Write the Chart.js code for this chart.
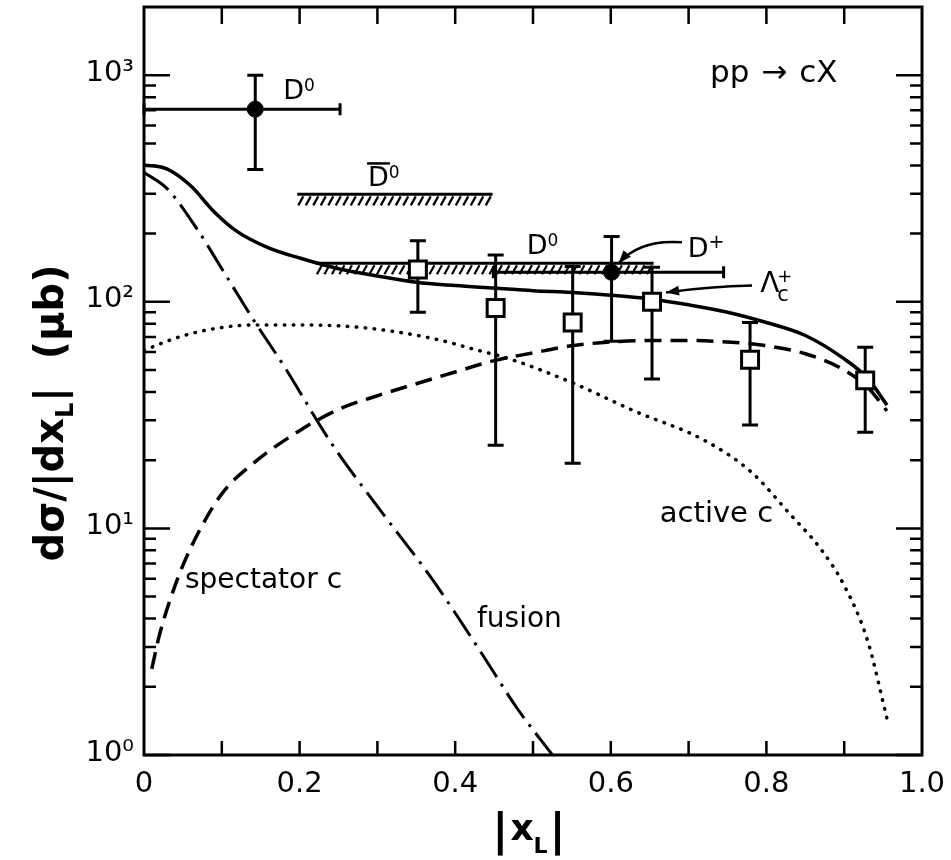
<!DOCTYPE html>
<html>
<head>
<meta charset="utf-8">
<title>pp → cX</title>
<script src="https://cdn.jsdelivr.net/npm/chart.js@4.4.1/dist/chart.umd.min.js"></script>
<style>
  html, body { margin: 0; padding: 0; background: #fff; }
  canvas { display: block; }
</style>
</head>
<body>
<canvas id="chart" width="951" height="860"></canvas>
<script>
// model curves
const totalX = [0, 0.03, 0.06, 0.09, 0.12, 0.16, 0.2, 0.25, 0.3, 0.35, 0.4, 0.45, 0.5, 0.55, 0.6, 0.65, 0.7, 0.75, 0.8, 0.85, 0.9, 0.93, 0.955];
const totalY = [402, 385, 325, 250, 204, 173, 156, 140, 130, 122, 118, 115, 112, 110, 107, 103, 97, 90, 81, 71, 56, 46, 35];

const spectX = [0.01, 0.02, 0.04, 0.06, 0.1, 0.14, 0.2, 0.25, 0.3, 0.35, 0.4, 0.45, 0.5, 0.55, 0.6, 0.65, 0.7, 0.75, 0.8, 0.85, 0.9, 0.93, 0.955];
const spectY = [2.4, 3.4, 5.6, 8.2, 14.2, 19.3, 27, 33.5, 38.5, 43.5, 49, 55, 59.5, 64, 66.5, 67.5, 67.5, 66.5, 64, 59, 50, 42, 33];

const fusionX = [0, 0.03, 0.07, 0.1, 0.14, 0.18, 0.24, 0.3, 0.37, 0.43, 0.48, 0.525];
const fusionY = [372, 315, 205, 140, 84, 52, 24, 12.5, 6.0, 2.95, 1.6, 1.0];

const activeX = [0, 0.04, 0.08, 0.14, 0.2, 0.28, 0.37, 0.43, 0.47, 0.55, 0.63, 0.72, 0.78, 0.83, 0.87, 0.9, 0.93, 0.956];
const activeY = [61, 69, 75, 79, 79, 77, 69, 61, 56, 44, 33, 24.5, 17.8, 11.6, 8.1, 5.6, 3.2, 1.4];

// D0 / D+ points (filled circles)
const dX = [0.143, 0.601];
const dY = [708, 135];
const dYLo = [384, 67];
const dYHi = [1000, 194];
const dXLo = [0, 0.449];
const dXHi = [0.252, 0.745];

// Lambda_c+ points (open squares)
const lcX = [0.352, 0.452, 0.551, 0.653, 0.779, 0.927];
const lcY = [139, 94, 81, 100, 55.5, 45];
const lcYLo = [90, 23.3, 19.4, 45.6, 28.6, 26.6];
const lcYHi = [186, 161, 143, 142, 81, 63];

// hatched bands
const dbarBandX = [0.197, 0.448];
const dbarBandY = [298, 298];
const d0BandX = [0.221, 0.655];
const d0BandY = [148, 148];

// axes
const xMinorTicks = [0.1, 0.2, 0.3, 0.4, 0.5, 0.6, 0.7, 0.8, 0.9];
const yDecades = [1, 10, 100, 1000];
const yTickLabels = ['10⁰', '10¹', '10²', '10³'];

const ink = '#000';
const face = '"DejaVu Sans"';
Chart.defaults.font.family = face;
Chart.defaults.color = ink;

function pts(xs, ys) {
  return xs.map((x, i) => ({x: x, y: ys[i]}));
}

function runs(ctx, x, y, parts, dry) {
  let cx = x;
  parts.forEach(p => {
    ctx.font = (p.w || 'normal') + ' ' + p.s + 'px ' + face;
    if (!dry) ctx.fillText(p.t, cx, y + (p.dy || 0));
    if (!p.stay) cx += ctx.measureText(p.t).width + (p.gap || 0);
  });
  return cx - x;
}

function arrowHead(ctx, x, y, ang) {
  ctx.beginPath();
  ctx.moveTo(x, y);
  ctx.lineTo(x - 13 * Math.cos(ang) + 5 * Math.sin(ang), y - 13 * Math.sin(ang) - 5 * Math.cos(ang));
  ctx.lineTo(x - 13 * Math.cos(ang) - 5 * Math.sin(ang), y - 13 * Math.sin(ang) + 5 * Math.cos(ang));
  ctx.closePath();
  ctx.fill();
}

const notes = [
  {x: 0.179, y: 783, parts: [{t: 'D', s: 27}, {t: '0', s: 17, dy: -8}]},
  {x: 0.288, y: 323, parts: [{t: 'D', s: 27}, {t: '0', s: 17, dy: -8}], bar: true},
  {x: 0.492, y: 162, parts: [{t: 'D', s: 27}, {t: '0', s: 17, dy: -8}]},
  {x: 0.699, y: 158, parts: [{t: 'D', s: 27}, {t: '+', s: 19, dy: -9}]},
  {x: 0.792, y: 111, parts: [{t: 'Λ', s: 28, gap: -2}, {t: '+', s: 18, dy: -10, stay: true}, {t: 'c', s: 21, dy: 9}]},
  {x: 0.7275, y: 931, parts: [{t: 'pp', s: 31, gap: 12}, {t: '→', s: 31, gap: 12}, {t: 'cX', s: 31}]},
  {x: 0.0527, y: 5.47, parts: [{t: 'spectator c', s: 28}]},
  {x: 0.428, y: 3.67, parts: [{t: 'fusion', s: 28}]},
  {x: 0.663, y: 10.7, parts: [{t: 'active c', s: 29}]}
];

const decorations = {
  id: 'decorations',
  beforeDatasetsDraw(chart) {
    const ctx = chart.ctx, sx = chart.scales.x, sy = chart.scales.y;
    ctx.save();
    ctx.strokeStyle = ink;
    ctx.lineWidth = 3;
    ctx.beginPath();
    lcX.forEach((v, i) => {
      const X = sx.getPixelForValue(v);
      const lo = sy.getPixelForValue(lcYLo[i]), hi = sy.getPixelForValue(lcYHi[i]);
      ctx.moveTo(X, lo); ctx.lineTo(X, hi);
      ctx.moveTo(X - 8, lo); ctx.lineTo(X + 8, lo);
      ctx.moveTo(X - 8, hi); ctx.lineTo(X + 8, hi);
    });
    dX.forEach((v, i) => {
      const X = sx.getPixelForValue(v), Y = sy.getPixelForValue(dY[i]);
      const lo = sy.getPixelForValue(dYLo[i]), hi = sy.getPixelForValue(dYHi[i]);
      const l = sx.getPixelForValue(dXLo[i]), r = sx.getPixelForValue(dXHi[i]);
      ctx.moveTo(X, lo); ctx.lineTo(X, hi);
      ctx.moveTo(X - 8, lo); ctx.lineTo(X + 8, lo);
      ctx.moveTo(X - 8, hi); ctx.lineTo(X + 8, hi);
      ctx.moveTo(l, Y); ctx.lineTo(r, Y);
      ctx.moveTo(l, Y - 6); ctx.lineTo(l, Y + 6);
      ctx.moveTo(r, Y - 6); ctx.lineTo(r, Y + 6);
    });
    ctx.stroke();
    ctx.restore();
  },
  afterDatasetDraw(chart, args) {
    if (!args.meta.dataset || !chart.data.datasets[args.index].hatch) return;
    const ctx = chart.ctx;
    const p = args.meta.data;
    ctx.save();
    ctx.strokeStyle = ink;
    ctx.lineWidth = 2.2;
    ctx.beginPath();
    for (let X = p[0].x + 4; X <= p[1].x; X += 7.5) {
      ctx.moveTo(X + 2, p[0].y + 2);
      ctx.lineTo(X - 3, p[0].y + 11);
    }
    ctx.stroke();
    ctx.restore();
  },
  afterDatasetsDraw(chart) {
    const ctx = chart.ctx, sx = chart.scales.x, sy = chart.scales.y;
    ctx.save();
    ctx.fillStyle = ink;
    ctx.strokeStyle = ink;
    ctx.textBaseline = 'alphabetic';
    ctx.textAlign = 'left';
    notes.forEach(n => {
      const X = sx.getPixelForValue(n.x), Y = sy.getPixelForValue(n.y);
      runs(ctx, X, Y, n.parts);
      if (n.bar) {
        ctx.font = 'normal 27px ' + face;
        const w = ctx.measureText('D').width;
        ctx.lineWidth = 2.5;
        ctx.beginPath();
        ctx.moveTo(X - 1, Y - 23);
        ctx.lineTo(X + w + 1, Y - 23);
        ctx.stroke();
      }
    });
    // arrow to the D+ point
    ctx.lineWidth = 2.5;
    let a0 = [sx.getPixelForValue(0.6915), sy.getPixelForValue(183)];
    let a1 = [sx.getPixelForValue(0.6375), sy.getPixelForValue(189)];
    let a2 = [sx.getPixelForValue(0.610), sy.getPixelForValue(148)];
    ctx.beginPath();
    ctx.moveTo(a0[0], a0[1]);
    ctx.quadraticCurveTo(a1[0], a1[1], a2[0], a2[1]);
    ctx.stroke();
    arrowHead(ctx, a2[0], a2[1], Math.atan2(a2[1] - a1[1], a2[0] - a1[0]));
    // arrow to the Lambda_c+ point
    a0 = [sx.getPixelForValue(0.7815), sy.getPixelForValue(118)];
    a1 = [sx.getPixelForValue(0.7275), sy.getPixelForValue(117)];
    a2 = [sx.getPixelForValue(0.671), sy.getPixelForValue(110)];
    ctx.beginPath();
    ctx.moveTo(a0[0], a0[1]);
    ctx.quadraticCurveTo(a1[0], a1[1], a2[0], a2[1]);
    ctx.stroke();
    arrowHead(ctx, a2[0], a2[1], Math.atan2(a2[1] - a1[1], a2[0] - a1[0]));
    ctx.restore();
  },
  afterDraw(chart) {
    const ctx = chart.ctx, sx = chart.scales.x, sy = chart.scales.y, a = chart.chartArea;
    ctx.save();
    ctx.strokeStyle = ink;
    ctx.fillStyle = ink;
    ctx.lineWidth = 3;
    ctx.strokeRect(a.left, a.top, a.right - a.left, a.bottom - a.top);
    ctx.lineWidth = 2.5;
    ctx.beginPath();
    xMinorTicks.forEach(v => {
      const X = sx.getPixelForValue(v);
      ctx.moveTo(X, a.bottom); ctx.lineTo(X, a.bottom - 14);
      ctx.moveTo(X, a.top); ctx.lineTo(X, a.top + 17);
    });
    yDecades.forEach(d => {
      for (let m = 1; m <= 9; m++) {
        const v = d * m;
        if (v >= sy.max) break;
        const Y = sy.getPixelForValue(v);
        const len = m === 1 ? 26 : 12;
        ctx.moveTo(a.left, Y); ctx.lineTo(a.left + len, Y);
        ctx.moveTo(a.right, Y); ctx.lineTo(a.right - len, Y);
      }
    });
    ctx.stroke();

    // y tick labels 10^n
    ctx.font = 'normal 29px ' + face;
    ctx.textAlign = 'right';
    ctx.textBaseline = 'middle';
    yDecades.forEach((d, i) => {
      ctx.fillText(yTickLabels[i], a.left - 10, sy.getPixelForValue(d) - 2);
    });

    // x title |x_L|
    ctx.textAlign = 'left';
    ctx.textBaseline = 'alphabetic';
    const xt = [{t: '|', s: 44, w: 'bold', dy: 5, gap: 2}, {t: 'x', s: 36, w: 'bold'}, {t: 'L', s: 22, w: 'bold', dy: 13, gap: 2}, {t: '|', s: 44, w: 'bold', dy: 5}];
    const xw = runs(ctx, 0, 0, xt, true);
    runs(ctx, (a.left + a.right) / 2 - 4 - xw / 2, 840, xt);

    // y title dσ/|dx_L|  (μb)
    const yt = [{t: 'dσ/|dx', s: 40, w: 'bold'}, {t: 'L', s: 24, w: 'bold', dy: 10, gap: 1}, {t: '|', s: 40, w: 'bold'}, {t: '  (μb)', s: 40, w: 'bold'}];
    const yw = runs(ctx, 0, 0, yt, true);
    ctx.translate(63, 413);
    ctx.rotate(-Math.PI / 2);
    runs(ctx, -yw / 2, 0, yt);
    ctx.restore();
  }
};

new Chart(document.getElementById('chart'), {
  type: 'line',
  data: {
    datasets: [
      {label: 'Λc+', data: pts(lcX, lcY), showLine: false, pointStyle: 'rect', pointRadius: 12,
       pointBorderWidth: 3, pointBackgroundColor: '#fff', pointBorderColor: ink, order: 0},
      {label: 'D', data: pts(dX, dY), showLine: false, pointStyle: 'circle', pointRadius: 8,
       pointBorderWidth: 1, pointBackgroundColor: ink, pointBorderColor: ink, order: 1},
      {label: 'total', data: pts(totalX, totalY), borderColor: ink, borderWidth: 3.5,
       pointRadius: 0, cubicInterpolationMode: 'monotone', order: 2},
      {label: 'spectator c', data: pts(spectX, spectY), borderColor: ink, borderWidth: 3.5,
       borderDash: [17, 9], pointRadius: 0, cubicInterpolationMode: 'monotone', order: 3},
      {label: 'fusion', data: pts(fusionX, fusionY), borderColor: ink, borderWidth: 3,
       borderDash: [30, 8, 3, 8], pointRadius: 0, cubicInterpolationMode: 'monotone', order: 4},
      {label: 'active c', data: pts(activeX, activeY), borderColor: ink, borderWidth: 3.5,
       borderDash: [0.5, 8.5], borderCapStyle: 'round', pointRadius: 0, cubicInterpolationMode: 'monotone', order: 5},
      {label: 'D̄0 band', data: pts(dbarBandX, dbarBandY), borderColor: ink, borderWidth: 3,
       pointRadius: 0, hatch: true, order: 6},
      {label: 'D0 band', data: pts(d0BandX, d0BandY), borderColor: ink, borderWidth: 3,
       pointRadius: 0, hatch: true, order: 7}
    ]
  },
  options: {
    responsive: false,
    animation: false,
    events: [],
    layout: {autoPadding: false, padding: {top: 7, right: 29, left: 0, bottom: 0}},
    plugins: {legend: {display: false}, tooltip: {enabled: false}},
    scales: {
      x: {
        type: 'linear', min: 0, max: 1,
        grid: {display: false, drawTicks: false},
        border: {display: false},
        ticks: {stepSize: 0.2, maxRotation: 0, autoSkip: false, padding: 12, color: ink,
                font: {size: 29}, callback: v => v === 0 ? '0' : v.toFixed(1)},
        afterFit(s) { s.height = 105; s.paddingLeft = 0; s.paddingRight = 0; }
      },
      y: {
        type: 'logarithmic', min: 1, max: 2000,
        grid: {display: false, drawTicks: false},
        border: {display: false},
        ticks: {display: false},
        afterFit(s) { s.width = 144; s.paddingTop = 0; s.paddingBottom = 0; }
      }
    }
  },
  plugins: [decorations]
});
</script>
</body>
</html>
